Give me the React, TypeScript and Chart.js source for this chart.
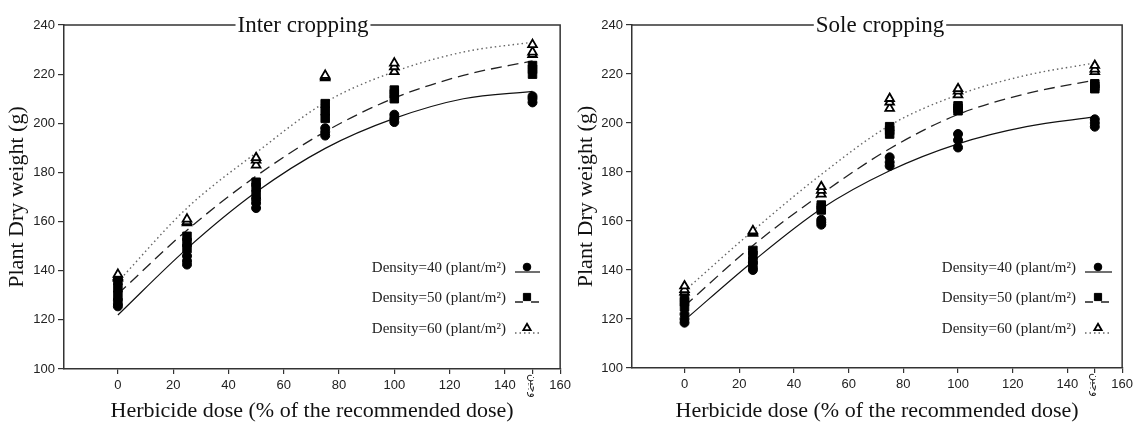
import React, { useEffect, useRef } from 'react';
import { Chart, registerables } from 'chart.js';

Chart.register(...registerables);

// ---------- data ----------
const doses = [0, 25, 50, 75, 100, 150];
const fitDoses = [0, 25, 50, 75, 100, 125, 150];
const xTickValues = [0, 20, 40, 60, 80, 100, 120, 140, 150, 160];
const weedingLabel = 'وجین';
const legendLabels = ['Density=40 (plant/m²)', 'Density=50 (plant/m²)', 'Density=60 (plant/m²)'];
const xTitle = 'Herbicide dose (% of the recommended dose)';
const yTitle = 'Plant Dry weight (g)';

// Inter cropping: replicate observations per dose
const interD40 = [[125.5, 126.5, 128], [142.5, 144, 146], [165.5, 167.5, 169], [195, 196.5, 198], [200.5, 202, 203.5], [208.5, 210, 211]];
const interD50 = [[130, 133, 136], [149, 151.5, 154], [171, 174, 176], [202, 205, 208], [210, 212, 213.5], [220, 222, 223.5]];
const interD60 = [[137, 137.5, 138.5], [159.5, 160, 161], [183, 185, 186], [218.5, 219, 219.5], [221, 223, 224.5], [228, 229, 232]];
// Inter cropping fitted curves (read at fitDoses)
const interFit40 = [122, 149, 172, 189.8, 202, 210, 213];
const interFit50 = [130.5, 156.5, 178.5, 196.6, 210.3, 219.5, 225.4];
const interFit60 = [135.5, 165.5, 188, 208.5, 221, 229, 233];

// Sole cropping
const soleD40 = [[118.5, 120, 122], [140, 141, 143], [158.5, 159.5, 160.5], [182.5, 184, 186], [190, 193, 195.5], [198.5, 200, 201.5]];
const soleD50 = [[125, 127, 128.5], [143.5, 146, 148], [164.5, 165.5, 166.5], [195.5, 197, 198.5], [205, 206, 207], [214, 215, 216]];
const soleD60 = [[131, 132, 133.5], [155, 155.5, 156], [171, 172.5, 174], [206, 208.5, 210], [211.5, 213, 214], [221, 222, 223.5]];
const soleFit40 = [119.5, 143.5, 165, 180.5, 191.5, 198.5, 202.5];
const soleFit50 = [125.3, 150, 171, 189.5, 203.5, 212, 217.5];
const soleFit60 = [131.5, 156, 179, 199, 211.5, 219.5, 224.5];

// ---------- styles ----------
const SERIF = '"Liberation Serif", "Times New Roman", serif';
const SANS = '"Liberation Sans", Arial, sans-serif';
const AXIS_COLOR = '#333';

const markerStyles = [
  { pointStyle: 'circle', radius: 4.5, bg: '#000', border: '#000', bw: 1 },
  { pointStyle: 'rect', radius: 6, bg: '#000', border: '#000', bw: 1 },
  { pointStyle: 'triangle', radius: 5, bg: '#fff', border: '#000', bw: 1.8 },
];
const lineStyles = [
  { dash: [] as number[], color: '#111', width: 1.2 },
  { dash: [11, 6], color: '#222', width: 1.3 },
  { dash: [1.5, 3], color: '#666', width: 1.4 },
];

type PanelCfg = {
  left: number;
  width: number;
  title: string;
  titleX: number;
  yAxisWidth: number;
  xAxisHeight: number;
  padRight: number;
  xMin: number;
  legendTextRight: number;
  legendSymX: number;
  legendLine: [number, number];
  obs: number[][][];
  fits: number[][];
};

function toPoints(reps: number[][]) {
  const pts: { x: number; y: number }[] = [];
  reps.forEach((vals, i) => vals.forEach((v) => pts.push({ x: doses[i], y: v })));
  return pts;
}

function drawMarker(ctx: CanvasRenderingContext2D, idx: number, x: number, y: number, scale: number) {
  const m = markerStyles[idx];
  ctx.save();
  ctx.fillStyle = m.bg;
  ctx.strokeStyle = m.border;
  ctx.lineWidth = m.bw;
  ctx.beginPath();
  const r = m.radius * scale;
  if (m.pointStyle === 'circle') {
    ctx.arc(x, y, r, 0, Math.PI * 2);
  } else if (m.pointStyle === 'rect') {
    const s = r * Math.SQRT1_2;
    ctx.rect(x - s, y - s, 2 * s, 2 * s);
  } else {
    ctx.moveTo(x, y - r);
    ctx.lineTo(x + r * 0.866, y + r * 0.5);
    ctx.lineTo(x - r * 0.866, y + r * 0.5);
    ctx.closePath();
  }
  ctx.fill();
  ctx.stroke();
  ctx.restore();
}

function makeFramePlugin(cfg: PanelCfg) {
  return {
    id: 'frameAndLegend',
    afterDraw(chart: any) {
      const { ctx, chartArea: a, scales } = chart;
      ctx.save();
      // title on top border
      ctx.font = `23px ${SERIF}`;
      const tw = ctx.measureText(cfg.title).width;
      ctx.strokeStyle = AXIS_COLOR;
      ctx.lineWidth = 1.5;
      ctx.beginPath();
      ctx.moveTo(a.left, a.top);
      ctx.lineTo(cfg.titleX - tw / 2 - 2, a.top);
      ctx.moveTo(cfg.titleX + tw / 2 + 2, a.top);
      ctx.lineTo(a.right, a.top);
      ctx.lineTo(a.right, a.bottom);
      ctx.stroke();
      ctx.fillStyle = '#111';
      ctx.textAlign = 'center';
      ctx.textBaseline = 'alphabetic';
      ctx.fillText(cfg.title, cfg.titleX, a.top + 7);

      // weeding label (rotated) at x = 150
      const wx = scales.x.getPixelForValue(150);
      ctx.save();
      ctx.translate(wx, a.bottom + 17);
      ctx.rotate(Math.PI / 2);
      ctx.font = `11px "DejaVu Sans", sans-serif`;
      ctx.fillStyle = '#222';
      ctx.textAlign = 'center';
      ctx.textBaseline = 'middle';
      ctx.fillText(weedingLabel, 0, 0);
      ctx.restore();

      // legend
      const rows = [268, 298, 329];
      ctx.font = `15px ${SERIF}`;
      ctx.textAlign = 'right';
      ctx.textBaseline = 'middle';
      legendLabels.forEach((label, i) => {
        const y = rows[i];
        ctx.fillStyle = '#222';
        ctx.fillText(label, cfg.legendTextRight, y);
        const ls = lineStyles[i];
        ctx.save();
        ctx.strokeStyle = ls.color;
        ctx.lineWidth = ls.width;
        ctx.setLineDash(i === 1 ? [8, 8] : ls.dash);
        ctx.beginPath();
        ctx.moveTo(cfg.legendLine[0], y + 4);
        ctx.lineTo(cfg.legendLine[1], y + 4);
        ctx.stroke();
        ctx.restore();
        drawMarker(ctx, i, cfg.legendSymX, y - 1, 0.85);
      });
      ctx.restore();
    },
  };
}

function Panel({ cfg }: { cfg: PanelCfg }) {
  const ref = useRef<HTMLCanvasElement>(null);
  useEffect(() => {
    if (!ref.current) return;
    const obsSets = cfg.obs.map((reps, i) => ({
      label: legendLabels[i],
      data: toPoints(reps),
      showLine: false,
      pointStyle: markerStyles[i].pointStyle,
      pointRadius: markerStyles[i].radius,
      pointBackgroundColor: markerStyles[i].bg,
      pointBorderColor: markerStyles[i].border,
      pointBorderWidth: markerStyles[i].bw,
    }));
    const fitSets = cfg.fits.map((vals, i) => ({
      label: legendLabels[i] + ' fit',
      data: fitDoses.map((d, j) => ({ x: d, y: vals[j] })),
      showLine: true,
      pointRadius: 0,
      borderColor: lineStyles[i].color,
      borderWidth: lineStyles[i].width,
      borderDash: lineStyles[i].dash,
      cubicInterpolationMode: 'monotone',
      fill: false,
    }));
    const chart = new Chart(ref.current, {
      type: 'scatter',
      data: { datasets: [...obsSets, ...fitSets] as any },
      options: {
        responsive: false,
        animation: false,
        events: [],
        layout: { padding: { top: 25, right: cfg.padRight, left: 0, bottom: 0 } },
        plugins: { legend: { display: false }, title: { display: false }, tooltip: { enabled: false } },
        scales: {
          x: {
            type: 'linear',
            min: cfg.xMin,
            max: 160,
            afterBuildTicks: (scale: any) => {
              scale.ticks = xTickValues.map((v) => ({ value: v }));
            },
            afterFit: (scale: any) => {
              scale.height = cfg.xAxisHeight;
            },
            ticks: {
              autoSkip: false,
              maxRotation: 0,
              padding: 4,
              color: '#222',
              font: { family: SANS, size: 13 },
              callback: (v: any) => (v === 150 ? '' : String(v)),
            },
            grid: { drawOnChartArea: false, drawTicks: true, tickLength: 5, color: AXIS_COLOR, lineWidth: 1.2 },
            border: { display: true, color: AXIS_COLOR, width: 1.5 },
            title: {
              display: true,
              text: xTitle,
              color: '#111',
              font: { family: SERIF, size: 22, lineHeight: 1 },
              padding: { top: 0, bottom: 1 },
            },
          },
          y: {
            type: 'linear',
            min: 100,
            max: 240,
            afterFit: (scale: any) => {
              scale.width = cfg.yAxisWidth;
            },
            ticks: {
              stepSize: 20,
              padding: 3,
              color: '#222',
              font: { family: SANS, size: 13 },
            },
            grid: { drawOnChartArea: false, drawTicks: true, tickLength: 6, color: AXIS_COLOR, lineWidth: 1.2 },
            border: { display: true, color: AXIS_COLOR, width: 1.5 },
            title: {
              display: true,
              text: yTitle,
              color: '#111',
              font: { family: SERIF, size: 22, lineHeight: 1 },
              padding: { top: 6, bottom: 0 },
            },
          },
        },
      } as any,
      plugins: [makeFramePlugin(cfg)],
    });
    return () => chart.destroy();
  }, [cfg]);
  return (
    <canvas
      ref={ref}
      width={cfg.width}
      height={423}
      style={{ position: 'absolute', left: cfg.left, top: 0, width: cfg.width, height: 423 }}
    />
  );
}

const interCfg: PanelCfg = {
  left: 0,
  width: 575,
  title: 'Inter cropping',
  titleX: 303,
  yAxisWidth: 64,
  xAxisHeight: 54,
  padRight: 13,
  xMin: -19.5,
  legendTextRight: 506,
  legendSymX: 527,
  legendLine: [515, 540],
  obs: [interD40, interD50, interD60],
  fits: [interFit40, interFit50, interFit60],
};

const soleCfg: PanelCfg = {
  left: 569,
  width: 568,
  title: 'Sole cropping',
  titleX: 311,
  yAxisWidth: 63,
  xAxisHeight: 55,
  padRight: 12,
  xMin: -19.2,
  legendTextRight: 507,
  legendSymX: 529,
  legendLine: [516, 543],
  obs: [soleD40, soleD50, soleD60],
  fits: [soleFit40, soleFit50, soleFit60],
};

export default function App() {
  return (
    <div style={{ position: 'absolute', left: 0, top: 0, width: 1137, height: 423, background: '#fff', overflow: 'hidden' }}>
      <Panel cfg={interCfg} />
      <Panel cfg={soleCfg} />
    </div>
  );
}
